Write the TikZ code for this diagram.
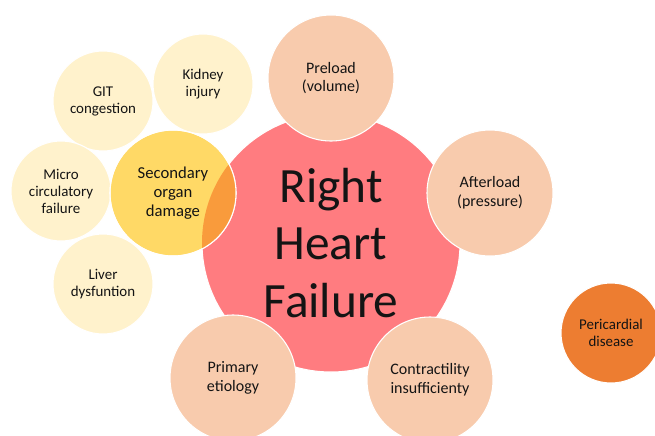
\documentclass[tikz,border=0pt]{standalone}
\usepackage{fontspec}
\setmainfont{Carlito}
\usepackage{xcolor}
\definecolor{rhfRed}{HTML}{FF7C80}
\definecolor{causePeach}{HTML}{F8CBAD}
\definecolor{organPale}{HTML}{FFF2CC}
\definecolor{organGold}{HTML}{FFD966}
\definecolor{organMix}{HTML}{F99B3C}
\definecolor{periOrange}{HTML}{ED7D31}
\definecolor{txtDark}{HTML}{141414}

\tikzset{
	bubble/.style={circle, draw=white, line width=0.8pt, inner sep=0pt, align=center, text=txtDark},
	cause/.style={bubble, fill=causePeach, minimum size=94.5pt, font=\fontsize{12}{14}\selectfont},
	organ/.style={bubble, fill=organPale, minimum size=75pt, font=\fontsize{11.2}{12.8}\selectfont},
}

\begin{document}
\begin{tikzpicture}[x=0.75pt,y=0.75pt,yscale=-1,xscale=1]
	\useasboundingbox (0,0) rectangle (655,435);
	\clip (0,0) rectangle (655,435);
	
	%Main circle
	\node [bubble, fill=rhfRed, minimum size=193.5pt, font=\fontsize{37}{43}\selectfont] (rhf) at (331,243) {Right\\Heart\\Failure};
	
	%Causes around the main circle
	\node [cause] (pre) at (331,78) {Preload\\(volume)};
	\node [cause] (aft) at (490,193) {Afterload\\(pressure)};
	\node [cause] (con) at (430,380) {Contractility\\insufficienty};
	\node [cause] (eti) at (233,378) {Primary\\etiology};
	
	%Pericardial, standing apart
	\node [bubble, fill=periOrange, minimum size=75pt, font=\fontsize{11.2}{12.8}\selectfont] (peri) at (611,333) {Pericardial\\disease};
	
	%Organs
	\node [organ] (git) at (103,101) {GIT\\congestion};
	\node [organ] (kid) at (203,84) {Kidney\\injury};
	\node [organ] (mic) at (61,191) {Micro\\circulatory\\failure};
	\node [organ] (liv) at (103,284) {Liver\\dysfuntion};
	
	%Secondary organ damage, overlapping the main circle
	\node [bubble, fill=organGold, minimum size=94.5pt, font=\fontsize{12.5}{14}\selectfont] (sec) at (173,193) {Secondary\\organ\\damage};
	\begin{scope}
		\clip (rhf.center) circle [radius=96.75pt];
		\fill [organMix] (sec.center) circle [radius=47.25pt];
	\end{scope}
	\draw [white, line width=0.8pt] (sec.center) circle [radius=47.25pt];
	
\end{tikzpicture}
\end{document}
